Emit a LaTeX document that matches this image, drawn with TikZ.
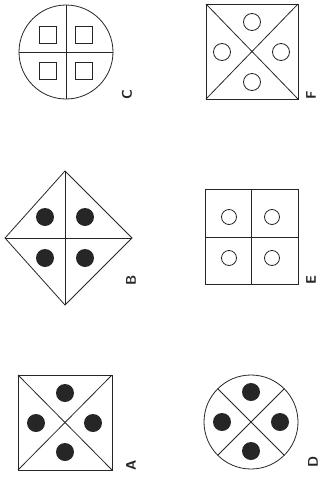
\documentclass[tikz,border=0pt]{standalone}
\begin{document}
\begin{tikzpicture}[x=1pt,y=-1pt,
  shp/.style={draw=black!85,line width=0.8pt},
  dot/.style={fill=black!85},
  ring/.style={draw=black!85,line width=0.8pt},
  lab/.style={font=\sffamily\bfseries\fontsize{14}{14}\selectfont,rotate=90,inner sep=0pt,text=black!85}]
\useasboundingbox (0,0) rectangle (321,477);
% C
\draw[shp] (66,52) circle (47);
\draw[shp] (66,5) -- (66,99);
\draw[shp] (19,52) -- (113,52);
\foreach \x/\y in {48/35,84/35,48/71,84/71}
  \draw[shp] (\x-8.5,\y-8.5) rectangle (\x+8.5,\y+8.5);
\node[lab] (lc) at (127,95) {C};
% F
\draw[shp] (206,4) rectangle (298,99);
\draw[shp] (206,4) -- (298,99);
\draw[shp] (298,4) -- (206,99);
\foreach \x/\y in {252/22,222/52,281/52,252/82}
  \draw[ring] (\x,\y) circle (8.5);
\node[lab] (lf) at (311,95) {F};
% B
\draw[shp] (65,171) -- (132,238) -- (65,305) -- (5,238) -- cycle;
\draw[shp] (65,171) -- (65,305);
\draw[shp] (5,238) -- (132,238);
\foreach \x/\y in {45/217,85/217,45/258,85/258}
  \fill[dot] (\x,\y) circle (9);
\node[lab] (lb) at (131,280) {B};
% E
\draw[shp] (205,189) rectangle (298,284);
\draw[shp] (251,189) -- (251,284);
\draw[shp] (205,237) -- (298,237);
\foreach \x/\y in {229/217,272/217,229/258,272/258}
  \draw[ring] (\x,\y) circle (7.5);
\node[lab] (le) at (311,280) {E};
% A
\draw[shp] (18,375) rectangle (112,470);
\draw[shp] (18,375) -- (112,470);
\draw[shp] (112,375) -- (18,470);
\foreach \x/\y in {65/393,36/423,93/423,65/452}
  \fill[dot] (\x,\y) circle (9);
\node[lab] (la) at (131,465) {A};
% D
\draw[shp] (251,422) circle (47);
\draw[shp] (251,422) ++(135:47) -- ++(-45:94);
\draw[shp] (251,422) ++(45:47) -- ++(225:94);
\foreach \x/\y in {251/392,222/422,280/422,251/451}
  \fill[dot] (\x,\y) circle (9);
\node[lab] (ld) at (313,462) {D};
\end{tikzpicture}
\end{document}
